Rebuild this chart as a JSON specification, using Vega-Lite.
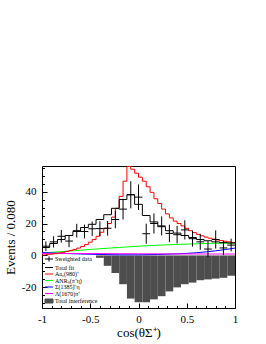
{
  "$schema": "https://vega.github.io/schema/vega-lite/v6.json",
  "width": 193,
  "height": 142,
  "autosize": "none",
  "padding": {"left": 42, "top": 166, "right": 31, "bottom": 36},
  "background": "white",
  "config": {
    "font": "Liberation Serif",
    "view": {"stroke": "#000", "strokeWidth": 1},
    "axis": {"domain": false, "grid": false, "labelOverlap": false, "labelFont": "Liberation Serif", "titleFont": "Liberation Serif", "labelColor": "#000", "titleColor": "#000", "tickColor": "#000", "titleFontWeight": "normal"}
  },
  "resolve": {"axis": {"x": "independent", "y": "independent"}},
  "datasets": {
    "pts": [
      {"x": -0.96, "xl": -1.0, "xh": -0.92, "y": 5.8, "err": 3},
      {"x": -0.88, "xl": -0.92, "xh": -0.84, "y": 8.5, "err": 3.5},
      {"x": -0.80, "xl": -0.84, "xh": -0.76, "y": 12, "err": 4},
      {"x": -0.72, "xl": -0.76, "xh": -0.68, "y": 9, "err": 3.8},
      {"x": -0.64, "xl": -0.68, "xh": -0.60, "y": 15.5, "err": 4.3},
      {"x": -0.56, "xl": -0.60, "xh": -0.52, "y": 15, "err": 4.3},
      {"x": -0.48, "xl": -0.52, "xh": -0.44, "y": 16.7, "err": 4.5},
      {"x": -0.40, "xl": -0.44, "xh": -0.36, "y": 16.8, "err": 4.6},
      {"x": -0.32, "xl": -0.36, "xh": -0.28, "y": 17, "err": 4.6},
      {"x": -0.24, "xl": -0.28, "xh": -0.20, "y": 22.5, "err": 5.5},
      {"x": -0.16, "xl": -0.20, "xh": -0.12, "y": 29, "err": 6.5},
      {"x": -0.08, "xl": -0.12, "xh": -0.04, "y": 38, "err": 8.5},
      {"x": 0.0, "xl": -0.04, "xh": 0.04, "y": 36.5, "err": 8},
      {"x": 0.08, "xl": 0.04, "xh": 0.12, "y": 13.6, "err": 6.3},
      {"x": 0.16, "xl": 0.12, "xh": 0.20, "y": 20, "err": 6.3},
      {"x": 0.24, "xl": 0.20, "xh": 0.28, "y": 18.5, "err": 6},
      {"x": 0.32, "xl": 0.28, "xh": 0.36, "y": 13.8, "err": 5.5},
      {"x": 0.40, "xl": 0.36, "xh": 0.44, "y": 13, "err": 5.5},
      {"x": 0.48, "xl": 0.44, "xh": 0.52, "y": 16, "err": 6},
      {"x": 0.56, "xl": 0.52, "xh": 0.60, "y": 10.5, "err": 5},
      {"x": 0.64, "xl": 0.60, "xh": 0.68, "y": 8.5, "err": 5},
      {"x": 0.72, "xl": 0.68, "xh": 0.76, "y": 4, "err": 5},
      {"x": 0.80, "xl": 0.76, "xh": 0.84, "y": 10, "err": 5.7},
      {"x": 0.88, "xl": 0.84, "xh": 0.92, "y": 4.7, "err": 4.5},
      {"x": 0.96, "xl": 0.92, "xh": 1.0, "y": 6.5, "err": 4}
    ],
    "tot": [
      {"x": -1.0, "y": 5}, {"x": -0.92, "y": 7.5}, {"x": -0.84, "y": 10}, {"x": -0.76, "y": 12.5},
      {"x": -0.68, "y": 15}, {"x": -0.60, "y": 17.5}, {"x": -0.52, "y": 19.5}, {"x": -0.44, "y": 22.5},
      {"x": -0.36, "y": 25.5}, {"x": -0.28, "y": 29.5}, {"x": -0.20, "y": 35}, {"x": -0.12, "y": 38},
      {"x": -0.04, "y": 32}, {"x": 0.04, "y": 25}, {"x": 0.12, "y": 21}, {"x": 0.20, "y": 18},
      {"x": 0.28, "y": 15.5}, {"x": 0.36, "y": 14}, {"x": 0.44, "y": 12.5}, {"x": 0.52, "y": 11.2},
      {"x": 0.60, "y": 10}, {"x": 0.68, "y": 9.2}, {"x": 0.76, "y": 8.5}, {"x": 0.84, "y": 8},
      {"x": 0.92, "y": 7.8}, {"x": 1.0, "y": 7.8}
    ],
    "red": [
      {"x": -1.0, "y": 0.3}, {"x": -0.96, "y": 0.5}, {"x": -0.92, "y": 0.8}, {"x": -0.88, "y": 1.1},
      {"x": -0.84, "y": 1.5}, {"x": -0.80, "y": 2.0}, {"x": -0.76, "y": 2.5}, {"x": -0.72, "y": 3.1},
      {"x": -0.68, "y": 3.8}, {"x": -0.64, "y": 4.6}, {"x": -0.60, "y": 5.6}, {"x": -0.56, "y": 6.8},
      {"x": -0.52, "y": 8.3}, {"x": -0.48, "y": 10}, {"x": -0.44, "y": 12}, {"x": -0.40, "y": 14.5},
      {"x": -0.36, "y": 17}, {"x": -0.32, "y": 20}, {"x": -0.28, "y": 24}, {"x": -0.24, "y": 29.5},
      {"x": -0.20, "y": 37}, {"x": -0.16, "y": 46.5}, {"x": -0.12, "y": 55.8}, {"x": -0.08, "y": 54},
      {"x": -0.04, "y": 51.5}, {"x": 0.0, "y": 49}, {"x": 0.04, "y": 46.5}, {"x": 0.08, "y": 43},
      {"x": 0.12, "y": 39.5}, {"x": 0.16, "y": 35.5}, {"x": 0.20, "y": 32.5}, {"x": 0.24, "y": 29},
      {"x": 0.28, "y": 26}, {"x": 0.32, "y": 23.5}, {"x": 0.36, "y": 21.5}, {"x": 0.40, "y": 20},
      {"x": 0.44, "y": 18.5}, {"x": 0.48, "y": 17}, {"x": 0.52, "y": 15.5}, {"x": 0.56, "y": 14.3},
      {"x": 0.60, "y": 13.2}, {"x": 0.64, "y": 12.3}, {"x": 0.68, "y": 11.5}, {"x": 0.72, "y": 10.8},
      {"x": 0.76, "y": 10.2}, {"x": 0.80, "y": 9.7}, {"x": 0.84, "y": 9.3}, {"x": 0.88, "y": 8.9},
      {"x": 0.92, "y": 8.5}, {"x": 0.96, "y": 8.1}, {"x": 1.0, "y": 8.1}
    ],
    "intf": [
      {"x": -0.44, "x2": -0.36, "y": -1.5}, {"x": -0.36, "x2": -0.28, "y": -6.5},
      {"x": -0.28, "x2": -0.20, "y": -11}, {"x": -0.20, "x2": -0.12, "y": -18},
      {"x": -0.12, "x2": -0.04, "y": -27}, {"x": -0.04, "x2": 0.04, "y": -29.3},
      {"x": 0.04, "x2": 0.12, "y": -29.3}, {"x": 0.12, "x2": 0.20, "y": -27.5},
      {"x": 0.20, "x2": 0.28, "y": -25.5}, {"x": 0.28, "x2": 0.36, "y": -22.5},
      {"x": 0.36, "x2": 0.44, "y": -20}, {"x": 0.44, "x2": 0.52, "y": -18},
      {"x": 0.52, "x2": 0.60, "y": -17}, {"x": 0.60, "x2": 0.68, "y": -15.5},
      {"x": 0.68, "x2": 0.76, "y": -15}, {"x": 0.76, "x2": 0.84, "y": -14.5},
      {"x": 0.84, "x2": 0.92, "y": -14}, {"x": 0.92, "x2": 1.0, "y": -12.7}
    ],
    "green": [
      {"x": -1.0, "y": 1.5}, {"x": -0.8, "y": 2.4}, {"x": -0.6, "y": 3.3}, {"x": -0.4, "y": 4.2},
      {"x": -0.2, "y": 5.0}, {"x": 0.0, "y": 5.8}, {"x": 0.2, "y": 6.4}, {"x": 0.4, "y": 6.9},
      {"x": 0.6, "y": 7.3}, {"x": 0.8, "y": 7.6}, {"x": 1.0, "y": 7.8}
    ],
    "blue": [
      {"x": -1.0, "y": 1.8}, {"x": -0.8, "y": 1.3}, {"x": -0.6, "y": 0.9}, {"x": -0.4, "y": 0.6},
      {"x": -0.2, "y": 0.4}, {"x": 0.0, "y": 0.4}, {"x": 0.2, "y": 0.6}, {"x": 0.4, "y": 1.0},
      {"x": 0.6, "y": 1.7}, {"x": 0.8, "y": 2.9}, {"x": 1.0, "y": 4.6}
    ],
    "mag": [
      {"x": -1.0, "y": 1.3}, {"x": -0.8, "y": 1.25}, {"x": -0.6, "y": 1.2}, {"x": -0.4, "y": 1.15},
      {"x": -0.2, "y": 1.1}, {"x": 0.0, "y": 1.05}, {"x": 0.2, "y": 1.0}, {"x": 0.4, "y": 0.95},
      {"x": 0.6, "y": 0.9}, {"x": 0.8, "y": 0.9}, {"x": 1.0, "y": 0.9}
    ]
  },
  "layer": [
    {
      "data": {"name": "intf"},
      "mark": {"type": "rect", "clip": true},
      "encoding": {
        "x": {
          "field": "x", "type": "quantitative", "title": "cos(θΣ⁺)",
          "scale": {"domain": [-1, 1], "nice": false, "zero": false},
          "axis": {
            "orient": "bottom",
            "titleFontSize": 13, "titleX": 96.5, "titleY": 24, "titleBaseline": "middle",
            "values": [-1, -0.5, 0, 0.5, 1],
            "labelExpr": "toString(datum.value)",
            "labelFontSize": 11, "labelPadding": 10, "labelFlush": false, "labelOverlap": false,
            "tickSize": -5
          }
        },
        "x2": {"field": "x2"},
        "y": {
          "field": "y", "type": "quantitative", "title": "Events / 0.080",
          "scale": {"domain": [-32.9, 56], "nice": false, "zero": false},
          "axis": {
            "orient": "left",
            "titleFontSize": 13, "titleX": -32, "titleY": 71, "titleBaseline": "middle", "titleAlign": "center", "titleAngle": -90,
            "values": [-20, 0, 20, 40],
            "labelExpr": "toString(datum.value)",
            "labelFontSize": 11, "labelPadding": 11, "labelFlush": false, "labelOverlap": false,
            "tickSize": -5
          }
        },
        "y2": {"datum": 0},
        "color": {
          "datum": "Total interference",
          "scale": {
            "domain": ["Sweighted data", "Total fit", "Aa₀(980)⁺", "ANRₛ(π⁺η)", "Σ(1385)⁺η", "Λ(1670)π⁺", "Total interference"],
            "range": ["#000000", "#000000", "#ff0000", "#00ff00", "#0000ff", "#ff00ff", "#4d4d4d"]
          },
          "legend": {
            "orient": "none", "legendX": 4, "legendY": 90, "title": null,
            "labelFont": "Liberation Serif", "labelFontSize": 6, "labelColor": "#000", "labelOffset": 3, "labelLimit": 120,
            "symbolSize": 25, "symbolStrokeWidth": 1, "rowPadding": 0.5, "padding": 0,
            "encode": {
              "symbols": {
                "update": {
                  "shape": {"signal": "datum.value === 'Sweighted data' ? 'M-1.6,0H1.6M0,-1V1' : (datum.value === 'Total interference' ? 'M-1.6,-0.8H1.6V0.8H-1.6Z' : 'M-1.6,0H1.6')"},
                  "fill": {"signal": "datum.value === 'Total interference' ? '#4d4d4d' : 'transparent'"},
                  "stroke": {"signal": "scale('color', datum.value)"},
                  "strokeWidth": {"value": 1},
                  "opacity": {"value": 1}
                }
              }
            }
          }
        }
      }
    },
    {
      "data": {"name": "green"},
      "mark": {"type": "line", "interpolate": "monotone", "strokeWidth": 1, "clip": true},
      "encoding": {
        "x": {"field": "x", "type": "quantitative", "axis": {"orient": "bottom", "title": null, "labels": false, "values": [-0.9, -0.8, -0.7, -0.6, -0.4, -0.3, -0.2, -0.1, 0.1, 0.2, 0.3, 0.4, 0.6, 0.7, 0.8, 0.9], "tickSize": -2.5, "domain": false}},
        "y": {"field": "y", "type": "quantitative", "axis": {"orient": "left", "title": null, "labels": false, "values": [-30, -25, -15, -10, -5, 5, 10, 15, 25, 30, 35, 45, 50, 55], "tickSize": -2.5, "domain": false}},
        "color": {"datum": "ANRₛ(π⁺η)"}
      }
    },
    {
      "data": {"name": "blue"},
      "mark": {"type": "line", "interpolate": "monotone", "strokeWidth": 1, "clip": true},
      "encoding": {"x": {"field": "x", "type": "quantitative", "axis": null}, "y": {"field": "y", "type": "quantitative", "axis": null}, "color": {"datum": "Σ(1385)⁺η"}}
    },
    {
      "data": {"name": "mag"},
      "mark": {"type": "line", "interpolate": "monotone", "strokeWidth": 1, "clip": true},
      "encoding": {"x": {"field": "x", "type": "quantitative", "axis": null}, "y": {"field": "y", "type": "quantitative", "axis": null}, "color": {"datum": "Λ(1670)π⁺"}}
    },
    {
      "data": {"name": "red"},
      "mark": {"type": "line", "interpolate": "step-after", "strokeWidth": 1, "clip": true},
      "encoding": {"x": {"field": "x", "type": "quantitative", "axis": null}, "y": {"field": "y", "type": "quantitative", "axis": null}, "color": {"datum": "Aa₀(980)⁺"}}
    },
    {
      "data": {"name": "tot"},
      "mark": {"type": "line", "interpolate": "step-after", "strokeWidth": 1, "clip": true},
      "encoding": {"x": {"field": "x", "type": "quantitative", "axis": null}, "y": {"field": "y", "type": "quantitative", "axis": null}, "color": {"datum": "Total fit"}}
    },
    {
      "data": {"name": "pts"},
      "mark": {"type": "rule", "strokeWidth": 1, "clip": true},
      "encoding": {"x": {"field": "xl", "type": "quantitative", "axis": null}, "x2": {"field": "xh"}, "y": {"field": "y", "type": "quantitative", "axis": null}, "color": {"datum": "Sweighted data"}}
    },
    {
      "data": {"name": "pts"},
      "mark": {"type": "errorbar", "ticks": false, "thickness": 1, "clip": true},
      "encoding": {"x": {"field": "x", "type": "quantitative", "axis": null}, "y": {"field": "y", "type": "quantitative", "axis": null}, "yError": {"field": "err"}, "color": {"datum": "Sweighted data"}}
    }
  ]
}
